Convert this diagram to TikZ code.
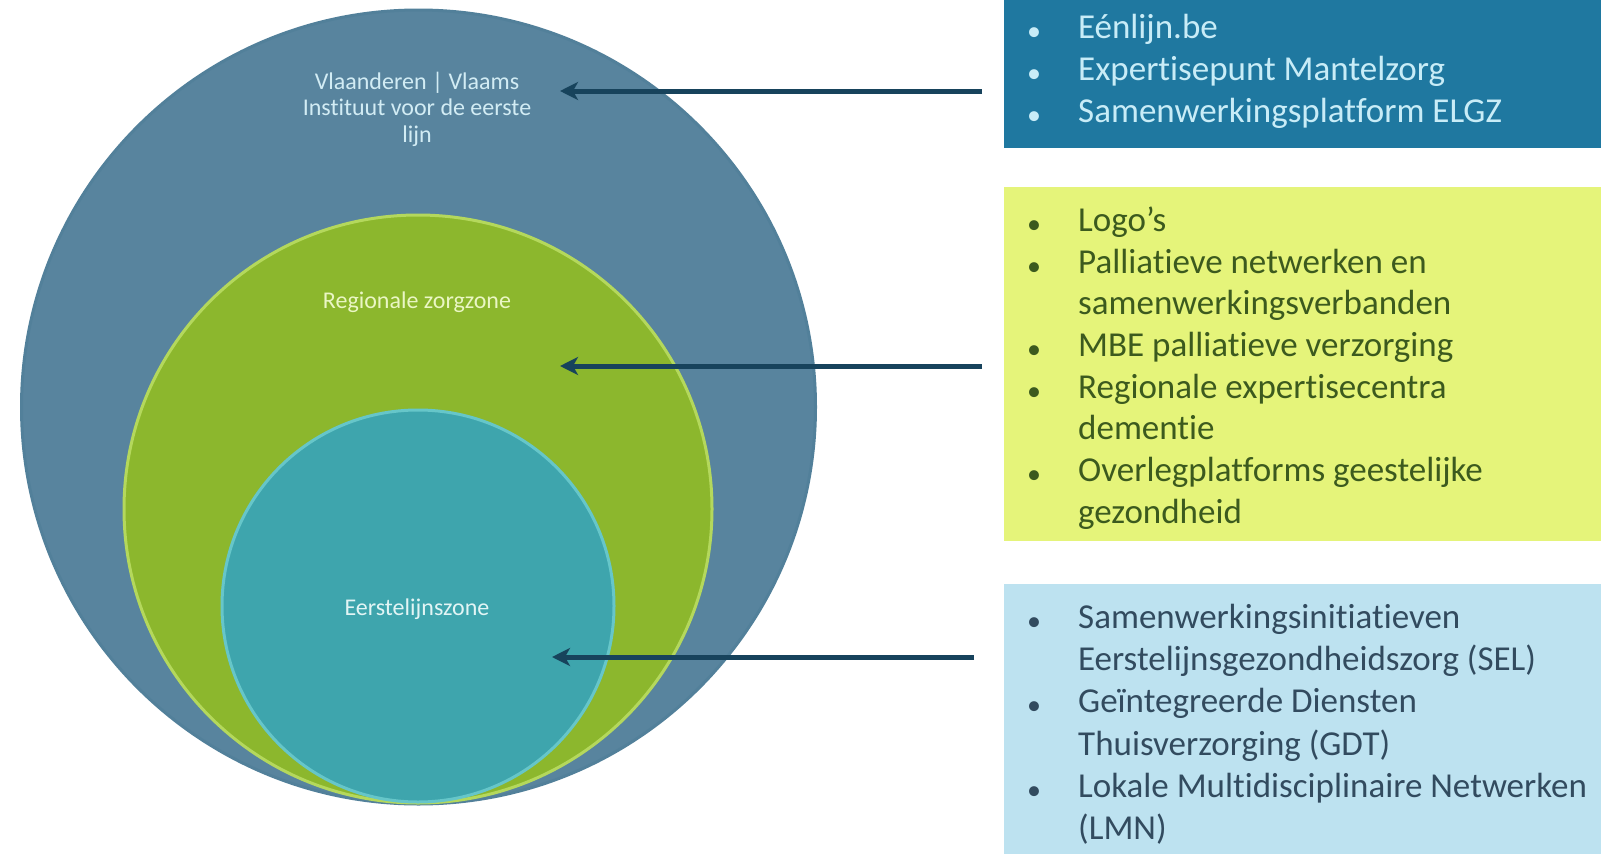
\documentclass[tikz,border=0pt]{standalone}
\usepackage{fontspec}
\setmainfont{Carlito}[Ligatures={NoCommon}]
\usetikzlibrary{arrows.meta}
\definecolor{outerc}{HTML}{58849E}
\definecolor{outerrim}{HTML}{52809A}
\definecolor{greenc}{HTML}{8CB72D}
\definecolor{greenrim}{HTML}{B4D85C}
\definecolor{cyanc}{HTML}{3EA5AD}
\definecolor{cyanrim}{HTML}{66C6C9}
\definecolor{boxa}{HTML}{1F78A0}
\definecolor{boxatxt}{HTML}{C8ECF7}
\definecolor{boxb}{HTML}{E5F47A}
\definecolor{boxbtxt}{HTML}{3C5A1E}
\definecolor{boxc}{HTML}{BDE2F0}
\definecolor{boxctxt}{HTML}{324B5F}
\definecolor{arrc}{HTML}{17435C}
\definecolor{lblouter}{HTML}{D2ECF4}
\definecolor{lblgreen}{HTML}{EAF6C4}
\definecolor{lblcyan}{HTML}{E2F5F5}
\newcommand{\tiNL}{t\kern0pt i}
\newcommand{\txtline}[4]{\node[itemtxt, #4] (#1) at (1078,#2) {#3};}
\newcommand{\bulline}[3]{\node[bultxt, #3] (#1) at (1034,#2) {•};}
\begin{document}
\begin{tikzpicture}[x=1pt,y=-1pt,
  zone/.style={circle, inner sep=0pt, line width=3pt},
  zlabel/.style={align=center, font=\fontsize{24}{26.5}\selectfont},
  itemtxt/.style={anchor=base west, inner sep=0pt, font=\fontsize{35}{42}\selectfont},
  bultxt/.style={anchor=base, inner sep=0pt, font=\fontsize{28}{30}\selectfont, yshift=-2pt},
  arr/.style={arrc, line width=5pt, -{Stealth[length=18pt,width=18pt,inset=5pt]}}]
\useasboundingbox (0,0) rectangle (1601,854);
\fill[white] (0,0) rectangle (1601,854);

% circles
\node[zone, fill=outerc, draw=outerrim, minimum size=794pt] (outer) at (418.5,407) {};
\node[zone, fill=greenc, draw=greenrim, minimum size=588pt] (mid) at (418,509) {};
\node[zone, fill=cyanc, draw=cyanrim, minimum size=392pt] (inner) at (418,606) {};

\node[zlabel, text=lblouter] (lbl1) at (417,109) {Vlaanderen | Vlaams\\Ins\tiNL tuut voor de eerste\\lijn};
\node[zlabel, text=lblgreen] (lbl2) at (417,302) {Regionale zorgzone};
\node[zlabel, text=lblcyan] (lbl3) at (417,609) {Eerstelijnszone};

% boxes
\fill[boxa] (1004,-5) rectangle (1601,148);
\fill[boxb] (1004,187) rectangle (1601,541);
\fill[boxc] (1004,584) rectangle (1601,860);

% box 1 text
\bulline{a1b}{38}{text=boxatxt}
\txtline{a1}{38}{Eénlijn.be}{text=boxatxt}
\bulline{a2b}{80}{text=boxatxt}
\txtline{a2}{80}{Exper\tiNL sepunt Mantelzorg}{text=boxatxt}
\bulline{a3b}{122}{text=boxatxt}
\txtline{a3}{122}{Samenwerkingsplatform ELGZ}{text=boxatxt}

% box 2 text
\bulline{b1b}{231}{text=boxbtxt}
\txtline{b1}{231}{Logo’s}{text=boxbtxt}
\bulline{b2b}{273}{text=boxbtxt}
\txtline{b2}{273}{Pallia\tiNL eve netwerken en}{text=boxbtxt}
\txtline{b3}{314}{samenwerkingsverbanden}{text=boxbtxt}
\bulline{b4b}{356}{text=boxbtxt}
\txtline{b4}{356}{MBE pallia\tiNL eve verzorging}{text=boxbtxt}
\bulline{b5b}{398}{text=boxbtxt}
\txtline{b5}{398}{Regionale exper\tiNL secentra}{text=boxbtxt}
\txtline{b6}{439}{demen\tiNL e}{text=boxbtxt}
\bulline{b7b}{481}{text=boxbtxt}
\txtline{b7}{481}{Overlegplatforms geestelijke}{text=boxbtxt}
\txtline{b8}{523}{gezondheid}{text=boxbtxt}

% box 3 text
\bulline{c1b}{628}{text=boxctxt}
\txtline{c1}{628}{Samenwerkingsini\tiNL a\tiNL even}{text=boxctxt}
\txtline{c2}{670}{Eerstelijnsgezondheidszorg (SEL)}{text=boxctxt}
\bulline{c3b}{712}{text=boxctxt}
\txtline{c3}{712}{Geïntegreerde Diensten}{text=boxctxt}
\txtline{c4}{755}{Thuisverzorging (GDT)}{text=boxctxt}
\bulline{c5b}{797}{text=boxctxt}
\txtline{c5}{797}{Lokale Multidisciplinaire Netwerken}{text=boxctxt}
\txtline{c6}{839}{(LMN)}{text=boxctxt}

% arrows
\coordinate (a1s) at (982,91);
\coordinate (a1e) at (560,91);
\coordinate (a2s) at (982,366);
\coordinate (a2e) at (560,366);
\coordinate (a3s) at (974,657);
\coordinate (a3e) at (552,657);
\draw[arr] (a1s) -- (a1e);
\draw[arr] (a2s) -- (a2e);
\draw[arr] (a3s) -- (a3e);
\end{tikzpicture}
\end{document}
